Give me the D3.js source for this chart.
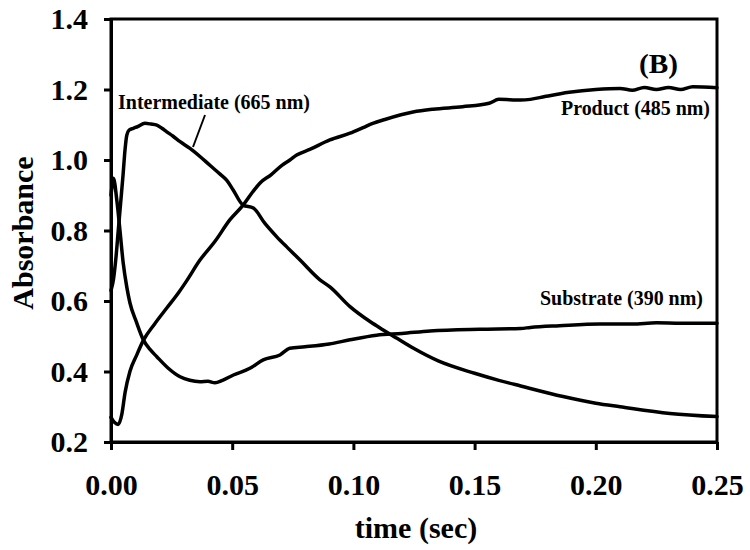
<!DOCTYPE html>
<html><head><meta charset="utf-8">
<script src="https://cdn.jsdelivr.net/npm/d3@7"></script>
<style>body{margin:0;background:#fff}svg{display:block}text{font-family:"Liberation Serif","Times New Roman",serif;font-weight:bold;fill:#000}</style>
</head><body>
<script>
// ---- data ----
const productTime = [0,0.0015,0.003,0.0045,0.0058,0.0078,0.0105,0.0134,0.018,0.023,0.028,0.031,0.0367,0.043,0.049,0.0545,0.0585,0.0615,0.066,0.0705,0.0738,0.0766,0.082,0.0903,0.0986,0.104,0.108,0.113,0.1246,0.1328,0.145,0.156,0.160,0.169,0.173,0.179,0.189,0.2,0.21,0.215,0.22,0.225,0.23,0.235,0.24,0.25];
const productAbs  = [0.27,0.255,0.25,0.28,0.34,0.40,0.445,0.489,0.535,0.58,0.625,0.655,0.716,0.77,0.83,0.872,0.91,0.935,0.958,0.985,1.0,1.014,1.03,1.057,1.076,1.092,1.104,1.115,1.136,1.144,1.151,1.161,1.172,1.17,1.172,1.18,1.192,1.2,1.203,1.198,1.206,1.2,1.206,1.2,1.208,1.205];

const interTime = [0,0.001,0.002,0.003,0.004,0.005,0.0058,0.0065,0.0075,0.0092,0.011,0.014,0.0165,0.0189,0.021,0.023,0.0255,0.0285,0.0326,0.0367,0.0408,0.045,0.0477,0.0504,0.0545,0.0587,0.0635,0.0684,0.073,0.078,0.0862,0.0903,0.0986,0.107,0.1123,0.118,0.125,0.135,0.15,0.16,0.169,0.1865,0.2,0.21,0.2306,0.25];
const interAbs  = [0.63,0.66,0.72,0.80,0.88,0.96,1.03,1.07,1.085,1.09,1.095,1.104,1.102,1.099,1.09,1.08,1.068,1.052,1.033,1.01,0.985,0.96,0.943,0.915,0.872,0.864,0.82,0.782,0.75,0.716,0.66,0.64,0.584,0.541,0.518,0.494,0.465,0.43,0.395,0.375,0.359,0.329,0.31,0.30,0.281,0.272];

const substrateTime = [0,0.0005,0.001,0.0025,0.0037,0.005,0.0065,0.0078,0.0105,0.0134,0.0162,0.0189,0.0235,0.0285,0.0325,0.0367,0.04,0.0429,0.046,0.0505,0.0573,0.0628,0.0697,0.0738,0.08,0.09,0.0986,0.1096,0.12,0.1316,0.152,0.169,0.173,0.185,0.2017,0.215,0.225,0.235,0.25];
const substrateAbs  = [0.90,0.93,0.948,0.88,0.80,0.71,0.64,0.595,0.54,0.489,0.462,0.442,0.41,0.385,0.375,0.371,0.372,0.368,0.375,0.39,0.409,0.433,0.447,0.466,0.47,0.478,0.49,0.503,0.508,0.515,0.52,0.522,0.525,0.53,0.535,0.535,0.538,0.537,0.537];

const xTicks = [0,0.05,0.10,0.15,0.20,0.25];
const yTicks = [0.2,0.4,0.6,0.8,1.0,1.2,1.4];
const seriesLabels = ["Intermediate (665 nm)","Product (485 nm)","Substrate (390 nm)"];
const panelLabel = "(B)";
const xTitle = "time (sec)";
const yTitle = "Absorbance";

// ---- layout ----
const W = 750, H = 550;
const m = {left:111, right:33, top:19, bottom:108};
const iw = W - m.left - m.right, ih = H - m.top - m.bottom;

const svg = d3.select("body").append("svg").attr("width",W).attr("height",H);
const g = svg.append("g").attr("transform",`translate(${m.left},${m.top})`);

const x = d3.scaleLinear().domain([0,0.25]).range([0,iw]);
const y = d3.scaleLinear().domain([0.2,1.4]).range([ih,0]);

// frame
g.append("rect").attr("x",0).attr("y",0).attr("width",iw).attr("height",ih)
  .attr("fill","none").attr("stroke","#000").attr("stroke-width",3);

const xa = g.append("g").attr("transform",`translate(0,${ih})`)
  .call(d3.axisBottom(x).tickValues(xTicks).tickFormat(d3.format(".2f")).tickSize(8).tickSizeOuter(0).tickPadding(24));
const ya = g.append("g")
  .call(d3.axisLeft(y).tickValues(yTicks).tickFormat(d3.format(".1f")).tickSize(7).tickSizeOuter(0).tickPadding(16));
[xa,ya].forEach(a=>{
  a.select(".domain").attr("stroke","#000").attr("stroke-width",3);
  a.selectAll(".tick line").attr("stroke","#000").attr("stroke-width",3);
  a.selectAll(".tick text").attr("font-family",'"Liberation Serif","Times New Roman",serif').attr("font-weight","bold").attr("font-size",30).attr("fill","#000");
});

const line = d3.line().x(d=>x(d[0])).y(d=>y(d[1])).curve(d3.curveMonotoneX);
const series = [
  d3.zip(interTime, interAbs),
  d3.zip(productTime, productAbs),
  d3.zip(substrateTime, substrateAbs)
];
g.selectAll(".curve").data(series).join("path").attr("class","curve")
  .attr("d",line).attr("fill","none").attr("stroke","#000").attr("stroke-width",3.5)
  .attr("stroke-linejoin","round").attr("stroke-linecap","round");

// labels
function lab(txt, xx, yy, size, len, anchor){
  const t = svg.append("text").attr("x",xx).attr("y",yy).attr("font-size",size).text(txt);
  if(anchor) t.attr("text-anchor",anchor);
  if(len) t.attr("textLength",len).attr("lengthAdjust","spacingAndGlyphs");
  return t;
}
lab(seriesLabels[0], 118, 109, 20, 192);
lab(seriesLabels[1], 561, 115, 20, 149);
lab(seriesLabels[2], 540, 305, 20, 163);
lab(panelLabel, 639, 73, 27, 39);
svg.append("line").attr("x1",205).attr("y1",115).attr("x2",193).attr("y2",147)
  .attr("stroke","#000").attr("stroke-width",2);

lab(xTitle, 416, 538, 30, null, "middle");
svg.append("text").attr("transform",`translate(33,233) rotate(-90)`)
  .attr("text-anchor","middle").attr("font-size",30).text(yTitle);
</script>
</body></html>
